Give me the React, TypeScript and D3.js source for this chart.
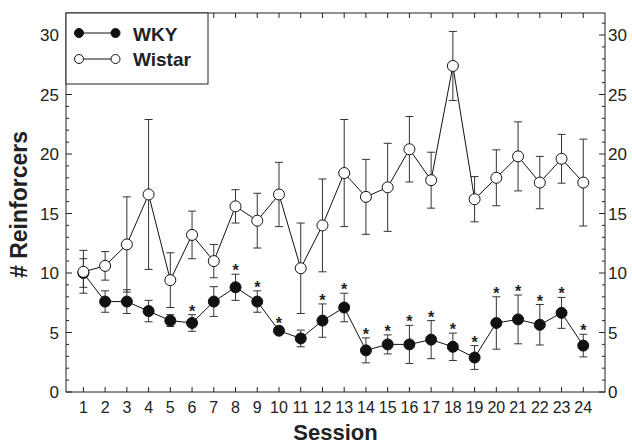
import * as d3 from "d3";

const sessions = [1, 2, 3, 4, 5, 6, 7, 8, 9, 10, 11, 12, 13, 14, 15, 16, 17, 18, 19, 20, 21, 22, 23, 24];

const wkyMean = [10.0, 7.6, 7.6, 6.8, 6.0, 5.8, 7.6, 8.8, 7.6, 5.15, 4.5, 6.0, 7.1, 3.5, 4.0, 4.0, 4.4, 3.8, 2.9, 5.8, 6.1, 5.65, 6.65, 3.9];
const wkyErr = [1.2, 0.9, 1.0, 0.9, 0.5, 0.7, 1.25, 1.1, 0.9, 0.3, 0.7, 1.4, 1.2, 1.05, 0.8, 1.6, 1.6, 1.15, 1.0, 2.2, 2.05, 1.7, 1.3, 0.95];

const wistarMean = [10.1, 10.6, 12.4, 16.6, 9.4, 13.2, 11.0, 15.6, 14.4, 16.6, 10.4, 14.0, 18.4, 16.4, 17.2, 20.4, 17.8, 27.4, 16.2, 18.0, 19.8, 17.6, 19.6, 17.6];
const wistarErr = [1.8, 1.2, 4.0, 6.3, 2.3, 2.0, 1.4, 1.4, 2.3, 2.7, 3.8, 3.9, 4.5, 3.15, 3.7, 2.75, 2.35, 2.9, 1.9, 2.35, 2.9, 2.2, 2.05, 3.65];

// sessions where WKY differs from Wistar (marked with *)
const significant = [6, 8, 9, 10, 12, 13, 14, 15, 16, 17, 18, 19, 20, 21, 22, 23, 24];

const yMajorTicks = [0, 5, 10, 15, 20, 25, 30];

const W = 632;
const H = 444;
const margin = { left: 66, right: 27, top: 13, bottom: 52 };
const font = "Arial, 'Liberation Sans', Helvetica, sans-serif";
const ink = "#222";

const x = d3.scaleLinear().domain([0.2, 25]).range([margin.left, W - margin.right]);
const y = d3.scaleLinear().domain([0, 31.85]).range([H - margin.bottom, margin.top]);

const line = d3.line<number>()
  .x((_, i) => x(sessions[i]))
  .y((d) => y(d));

type SeriesProps = { mean: number[]; err: number[]; filled: boolean };

function Series({ mean, err, filled }: SeriesProps) {
  const cap = 4;
  return (
    <g>
      {mean.map((m, i) => {
        const cx = x(sessions[i]);
        const top = y(m + err[i]);
        const bot = y(m - err[i]);
        return (
          <g key={i} stroke="#333" strokeWidth={1}>
            <line x1={cx} x2={cx} y1={top} y2={bot} />
            <line x1={cx - cap} x2={cx + cap} y1={top} y2={top} />
            <line x1={cx - cap} x2={cx + cap} y1={bot} y2={bot} />
          </g>
        );
      })}
      <path d={line(mean) ?? ""} fill="none" stroke="#111" strokeWidth={1} />
      {mean.map((m, i) => (
        <circle key={i} cx={x(sessions[i])} cy={y(m)} r={5.5}
          fill={filled ? "#111" : "#fff"} stroke="#111" strokeWidth={1} />
      ))}
    </g>
  );
}

export default function App() {
  const x0 = margin.left;
  const x1 = W - margin.right;
  const y0 = H - margin.bottom;
  const y1 = margin.top;
  const minorTicks = d3.range(1, 32).filter((v) => v % 5 !== 0);

  return (
    <svg width={W} height={H} style={{ position: "absolute", left: 0, top: 0, background: "#fff" }}
      fontFamily={font}>
      <rect x={0} y={0} width={W} height={H} fill="#fff" />

      {/* frame */}
      <rect x={x0} y={y1} width={x1 - x0} height={y0 - y1} fill="none" stroke={ink} strokeWidth={1} />

      {/* x ticks top and bottom, inward */}
      {sessions.map((s) => (
        <g key={s} stroke={ink} strokeWidth={1}>
          <line x1={x(s)} x2={x(s)} y1={y0} y2={y0 - 5} />
          <line x1={x(s)} x2={x(s)} y1={y1} y2={y1 + 5} />
        </g>
      ))}
      {sessions.map((s) => (
        <text key={s} x={x(s)} y={y0 + 21} textAnchor="middle" fontSize={16} fill={ink}>{s}</text>
      ))}

      {/* y ticks left and right */}
      {yMajorTicks.map((v) => (
        <g key={v}>
          <line x1={x0} x2={x0 + 6} y1={y(v)} y2={y(v)} stroke={ink} />
          <line x1={x1} x2={x1 - 6} y1={y(v)} y2={y(v)} stroke={ink} />
          <text x={x0 - 7} y={y(v)} dy="0.36em" textAnchor="end" fontSize={17} fill={ink}>{v}</text>
          <text x={x1 + 3} y={y(v)} dy="0.36em" textAnchor="start" fontSize={17} fill={ink}>{v}</text>
        </g>
      ))}
      {minorTicks.map((v) => (
        <g key={v} stroke={ink}>
          <line x1={x0} x2={x0 + 3} y1={y(v)} y2={y(v)} />
          <line x1={x1} x2={x1 - 3} y1={y(v)} y2={y(v)} />
        </g>
      ))}

      <Series mean={wkyMean} err={wkyErr} filled={true} />
      <Series mean={wistarMean} err={wistarErr} filled={false} />

      {/* significance markers */}
      {significant.map((s) => {
        const i = sessions.indexOf(s);
        return (
          <text key={s} x={x(s)} y={y(wkyMean[i] + wkyErr[i]) + 2} textAnchor="middle"
            fontSize={16} fontWeight="bold" fill="#222">*</text>
        );
      })}

      {/* legend */}
      <g>
        <rect x={x0} y={y1} width={142} height={71} fill="#fff" stroke={ink} strokeWidth={1} />
        <line x1={79} x2={115.5} y1={33} y2={33} stroke="#111" />
        <circle cx={79} cy={33} r={4.5} fill="#111" stroke="#111" />
        <circle cx={115.5} cy={33} r={4.5} fill="#111" stroke="#111" />
        <text x={133} y={40.5} fontSize={19} fontWeight="bold" fill={ink}>WKY</text>
        <line x1={79} x2={115.5} y1={59} y2={59} stroke="#111" />
        <circle cx={79} cy={59} r={4.5} fill="#fff" stroke="#111" />
        <circle cx={115.5} cy={59} r={4.5} fill="#fff" stroke="#111" />
        <text x={133} y={66} fontSize={19} fontWeight="bold" fill={ink}>Wistar</text>
      </g>

      {/* axis titles */}
      <text x={(x0 + x1) / 2} y={440} textAnchor="middle" fontSize={22} fontWeight="bold" fill={ink}>Session</text>
      <text transform={`translate(27,${(y0 + y1) / 2 + 2}) rotate(-90)`} textAnchor="middle"
        fontSize={23} fontWeight="bold" fill={ink}># Reinforcers</text>
    </svg>
  );
}
